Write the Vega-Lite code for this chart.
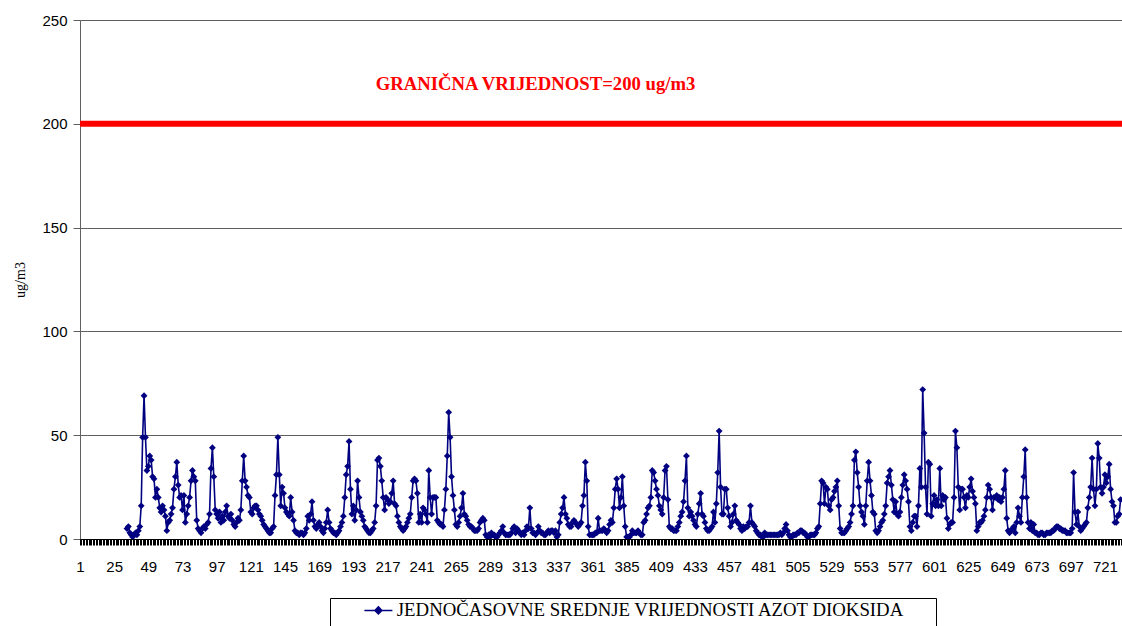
{
"$schema": "https://vega.github.io/schema/vega-lite/v6.json",
"width": 1042,
"height": 519,
"autosize": {"type": "none"},
"padding": {"left": 80, "top": 20, "right": 0, "bottom": 87},
"background": "white",
"config": {"view": {"stroke": null}},
"data": {"values": [
{"h":34,"v":5},{"h":35,"v":6},{"h":36,"v":3},{"h":37,"v":2},{"h":38,"v":1},{"h":39,"v":2},{"h":40,"v":3},{"h":41,"v":2},{"h":42,"v":4},{"h":43,"v":6},
{"h":44,"v":16},{"h":45,"v":49},{"h":46,"v":69},{"h":47,"v":49},{"h":48,"v":33},{"h":49,"v":35},{"h":50,"v":40},{"h":51,"v":38},{"h":52,"v":30},{"h":53,"v":29},
{"h":54,"v":20},{"h":55,"v":24},{"h":56,"v":20},{"h":57,"v":15},{"h":58,"v":13},{"h":59,"v":16},{"h":60,"v":14},{"h":61,"v":11},{"h":62,"v":4},{"h":63,"v":8},
{"h":64,"v":9},{"h":65,"v":12},{"h":66,"v":15},{"h":67,"v":24},{"h":68,"v":30},{"h":69,"v":37},{"h":70,"v":26},{"h":71,"v":20},{"h":72,"v":21},{"h":73,"v":14},
{"h":74,"v":21},{"h":75,"v":8},{"h":76,"v":12},{"h":77,"v":16},{"h":78,"v":20},{"h":79,"v":28},{"h":80,"v":33},{"h":81,"v":30},{"h":82,"v":28},{"h":83,"v":9},
{"h":84,"v":5},{"h":85,"v":4},{"h":86,"v":3},{"h":87,"v":5},{"h":88,"v":6},{"h":89,"v":5},{"h":90,"v":7},{"h":91,"v":8},{"h":92,"v":12},{"h":93,"v":34},
{"h":94,"v":44},{"h":95,"v":30},{"h":96,"v":14},{"h":97,"v":12},{"h":98,"v":10},{"h":99,"v":13},{"h":100,"v":8},{"h":101,"v":11},{"h":102,"v":9},{"h":103,"v":13},
{"h":104,"v":16},{"h":105,"v":11},{"h":106,"v":10},{"h":107,"v":12},{"h":108,"v":9},{"h":109,"v":7},{"h":110,"v":6},{"h":111,"v":8},{"h":112,"v":10},{"h":113,"v":9},
{"h":114,"v":14},{"h":115,"v":28},{"h":116,"v":40},{"h":117,"v":28},{"h":118,"v":25},{"h":119,"v":21},{"h":120,"v":20},{"h":121,"v":13},{"h":122,"v":12},{"h":123,"v":15},
{"h":124,"v":16},{"h":125,"v":16},{"h":126,"v":14},{"h":127,"v":12},{"h":128,"v":11},{"h":129,"v":9},{"h":130,"v":7},{"h":131,"v":6},{"h":132,"v":5},{"h":133,"v":4},
{"h":134,"v":3},{"h":135,"v":3},{"h":136,"v":5},{"h":137,"v":6},{"h":138,"v":21},{"h":139,"v":31},{"h":140,"v":49},{"h":141,"v":31},{"h":142,"v":16},{"h":143,"v":25},
{"h":144,"v":22},{"h":145,"v":15},{"h":146,"v":13},{"h":147,"v":12},{"h":148,"v":11},{"h":149,"v":20},{"h":150,"v":13},{"h":151,"v":9},{"h":152,"v":4},{"h":153,"v":3},
{"h":154,"v":3},{"h":155,"v":2},{"h":156,"v":3},{"h":157,"v":3},{"h":158,"v":2},{"h":159,"v":3},{"h":160,"v":5},{"h":161,"v":11},{"h":162,"v":9},{"h":163,"v":12},
{"h":164,"v":18},{"h":165,"v":9},{"h":166,"v":6},{"h":167,"v":5},{"h":168,"v":7},{"h":169,"v":8},{"h":170,"v":6},{"h":171,"v":4},{"h":172,"v":3},{"h":173,"v":5},
{"h":174,"v":8},{"h":175,"v":14},{"h":176,"v":8},{"h":177,"v":5},{"h":178,"v":4},{"h":179,"v":3},{"h":180,"v":3},{"h":181,"v":2},{"h":182,"v":3},{"h":183,"v":4},
{"h":184,"v":6},{"h":185,"v":8},{"h":186,"v":11},{"h":187,"v":20},{"h":188,"v":31},{"h":189,"v":35},{"h":190,"v":47},{"h":191,"v":24},{"h":192,"v":12},{"h":193,"v":16},
{"h":194,"v":9},{"h":195,"v":14},{"h":196,"v":28},{"h":197,"v":20},{"h":198,"v":13},{"h":199,"v":11},{"h":200,"v":9},{"h":201,"v":6},{"h":202,"v":5},{"h":203,"v":4},
{"h":204,"v":3},{"h":205,"v":3},{"h":206,"v":4},{"h":207,"v":5},{"h":208,"v":8},{"h":209,"v":16},{"h":210,"v":38},{"h":211,"v":39},{"h":212,"v":35},{"h":213,"v":28},
{"h":214,"v":20},{"h":215,"v":14},{"h":216,"v":20},{"h":217,"v":19},{"h":218,"v":17},{"h":219,"v":18},{"h":220,"v":22},{"h":221,"v":28},{"h":222,"v":17},{"h":223,"v":16},
{"h":224,"v":11},{"h":225,"v":8},{"h":226,"v":6},{"h":227,"v":5},{"h":228,"v":4},{"h":229,"v":5},{"h":230,"v":6},{"h":231,"v":8},{"h":232,"v":10},{"h":233,"v":12},
{"h":234,"v":20},{"h":235,"v":28},{"h":236,"v":29},{"h":237,"v":28},{"h":238,"v":22},{"h":239,"v":8},{"h":240,"v":12},{"h":241,"v":8},{"h":242,"v":15},{"h":243,"v":14},
{"h":244,"v":12},{"h":245,"v":8},{"h":246,"v":33},{"h":247,"v":20},{"h":248,"v":12},{"h":249,"v":20},{"h":250,"v":20},{"h":251,"v":20},{"h":252,"v":9},{"h":253,"v":8},
{"h":254,"v":7},{"h":255,"v":7},{"h":256,"v":6},{"h":257,"v":14},{"h":258,"v":24},{"h":259,"v":40},{"h":260,"v":61},{"h":261,"v":49},{"h":262,"v":30},{"h":263,"v":21},
{"h":264,"v":14},{"h":265,"v":7},{"h":266,"v":6},{"h":267,"v":8},{"h":268,"v":11},{"h":269,"v":15},{"h":270,"v":22},{"h":271,"v":12},{"h":272,"v":11},{"h":273,"v":9},
{"h":274,"v":7},{"h":275,"v":6},{"h":276,"v":6},{"h":277,"v":5},{"h":278,"v":4},{"h":279,"v":4},{"h":280,"v":4},{"h":281,"v":5},{"h":282,"v":8},{"h":283,"v":9},
{"h":284,"v":10},{"h":285,"v":9},{"h":286,"v":2},{"h":287,"v":1},{"h":288,"v":2},{"h":289,"v":1},{"h":290,"v":3},{"h":291,"v":2},{"h":292,"v":2},{"h":293,"v":1},
{"h":294,"v":1},{"h":295,"v":2},{"h":296,"v":3},{"h":297,"v":4},{"h":298,"v":6},{"h":299,"v":3},{"h":300,"v":2},{"h":301,"v":2},{"h":302,"v":2},{"h":303,"v":2},
{"h":304,"v":3},{"h":305,"v":5},{"h":306,"v":6},{"h":307,"v":3},{"h":308,"v":5},{"h":309,"v":4},{"h":310,"v":3},{"h":311,"v":2},{"h":312,"v":3},{"h":313,"v":2},
{"h":314,"v":4},{"h":315,"v":6},{"h":316,"v":5},{"h":317,"v":15},{"h":318,"v":5},{"h":319,"v":3},{"h":320,"v":3},{"h":321,"v":2},{"h":322,"v":3},{"h":323,"v":6},
{"h":324,"v":4},{"h":325,"v":3},{"h":326,"v":3},{"h":327,"v":2},{"h":328,"v":2},{"h":329,"v":3},{"h":330,"v":4},{"h":331,"v":3},{"h":332,"v":4},{"h":333,"v":4},
{"h":334,"v":3},{"h":335,"v":4},{"h":336,"v":1},{"h":337,"v":2},{"h":338,"v":8},{"h":339,"v":12},{"h":340,"v":15},{"h":341,"v":20},{"h":342,"v":12},{"h":343,"v":10},
{"h":344,"v":7},{"h":345,"v":6},{"h":346,"v":6},{"h":347,"v":8},{"h":348,"v":9},{"h":349,"v":8},{"h":350,"v":7},{"h":351,"v":6},{"h":352,"v":7},{"h":353,"v":8},
{"h":354,"v":16},{"h":355,"v":21},{"h":356,"v":37},{"h":357,"v":28},{"h":358,"v":6},{"h":359,"v":2},{"h":360,"v":2},{"h":361,"v":2},{"h":362,"v":2},{"h":363,"v":3},
{"h":364,"v":3},{"h":365,"v":10},{"h":366,"v":4},{"h":367,"v":4},{"h":368,"v":4},{"h":369,"v":5},{"h":370,"v":4},{"h":371,"v":3},{"h":372,"v":4},{"h":373,"v":7},
{"h":374,"v":9},{"h":375,"v":8},{"h":376,"v":15},{"h":377,"v":24},{"h":378,"v":29},{"h":379,"v":24},{"h":380,"v":15},{"h":381,"v":20},{"h":382,"v":30},{"h":383,"v":16},
{"h":384,"v":6},{"h":385,"v":1},{"h":386,"v":1},{"h":387,"v":1},{"h":388,"v":2},{"h":389,"v":4},{"h":390,"v":3},{"h":391,"v":3},{"h":392,"v":3},{"h":393,"v":4},
{"h":394,"v":3},{"h":395,"v":2},{"h":396,"v":2},{"h":397,"v":8},{"h":398,"v":9},{"h":399,"v":12},{"h":400,"v":15},{"h":401,"v":16},{"h":402,"v":20},{"h":403,"v":33},
{"h":404,"v":32},{"h":405,"v":28},{"h":406,"v":24},{"h":407,"v":21},{"h":408,"v":16},{"h":409,"v":14},{"h":410,"v":12},{"h":411,"v":20},{"h":412,"v":33},{"h":413,"v":35},
{"h":414,"v":19},{"h":415,"v":6},{"h":416,"v":5},{"h":417,"v":5},{"h":418,"v":4},{"h":419,"v":4},{"h":420,"v":4},{"h":421,"v":6},{"h":422,"v":8},{"h":423,"v":11},
{"h":424,"v":13},{"h":425,"v":18},{"h":426,"v":28},{"h":427,"v":40},{"h":428,"v":15},{"h":429,"v":11},{"h":430,"v":13},{"h":431,"v":11},{"h":432,"v":9},{"h":433,"v":7},
{"h":434,"v":6},{"h":435,"v":12},{"h":436,"v":17},{"h":437,"v":22},{"h":438,"v":12},{"h":439,"v":11},{"h":440,"v":8},{"h":441,"v":5},{"h":442,"v":4},{"h":443,"v":4},
{"h":444,"v":5},{"h":445,"v":6},{"h":446,"v":13},{"h":447,"v":8},{"h":448,"v":17},{"h":449,"v":32},{"h":450,"v":52},{"h":451,"v":25},{"h":452,"v":12},{"h":453,"v":12},
{"h":454,"v":24},{"h":455,"v":24},{"h":456,"v":15},{"h":457,"v":11},{"h":458,"v":6},{"h":459,"v":8},{"h":460,"v":12},{"h":461,"v":16},{"h":462,"v":9},{"h":463,"v":8},
{"h":464,"v":7},{"h":465,"v":5},{"h":466,"v":4},{"h":467,"v":6},{"h":468,"v":5},{"h":469,"v":6},{"h":470,"v":6},{"h":471,"v":8},{"h":472,"v":16},{"h":473,"v":8},
{"h":474,"v":7},{"h":475,"v":6},{"h":476,"v":4},{"h":477,"v":3},{"h":478,"v":2},{"h":479,"v":2},{"h":480,"v":1},{"h":481,"v":1},{"h":482,"v":3},{"h":483,"v":2},
{"h":484,"v":2},{"h":485,"v":2},{"h":486,"v":2},{"h":487,"v":2},{"h":488,"v":2},{"h":489,"v":2},{"h":490,"v":2},{"h":491,"v":2},{"h":492,"v":2},{"h":493,"v":3},
{"h":494,"v":2},{"h":495,"v":3},{"h":496,"v":5},{"h":497,"v":7},{"h":498,"v":4},{"h":499,"v":2},{"h":500,"v":1},{"h":501,"v":1},{"h":502,"v":2},{"h":503,"v":2},
{"h":504,"v":2},{"h":505,"v":3},{"h":506,"v":3},{"h":507,"v":4},{"h":508,"v":4},{"h":509,"v":3},{"h":510,"v":3},{"h":511,"v":2},{"h":512,"v":1},{"h":513,"v":1},
{"h":514,"v":2},{"h":515,"v":2},{"h":516,"v":2},{"h":517,"v":2},{"h":518,"v":3},{"h":519,"v":5},{"h":520,"v":6},{"h":521,"v":17},{"h":522,"v":28},{"h":523,"v":27},
{"h":524,"v":17},{"h":525,"v":25},{"h":526,"v":24},{"h":527,"v":16},{"h":528,"v":14},{"h":529,"v":19},{"h":530,"v":20},{"h":531,"v":23},{"h":532,"v":25},{"h":533,"v":28},
{"h":534,"v":16},{"h":535,"v":5},{"h":536,"v":3},{"h":537,"v":3},{"h":538,"v":3},{"h":539,"v":4},{"h":540,"v":5},{"h":541,"v":6},{"h":542,"v":8},{"h":543,"v":12},
{"h":544,"v":16},{"h":545,"v":38},{"h":546,"v":42},{"h":547,"v":32},{"h":548,"v":25},{"h":549,"v":16},{"h":550,"v":13},{"h":551,"v":11},{"h":552,"v":7},{"h":553,"v":16},
{"h":554,"v":28},{"h":555,"v":37},{"h":556,"v":28},{"h":557,"v":21},{"h":558,"v":13},{"h":559,"v":12},{"h":560,"v":4},{"h":561,"v":3},{"h":562,"v":4},{"h":563,"v":6},
{"h":564,"v":8},{"h":565,"v":9},{"h":566,"v":12},{"h":567,"v":16},{"h":568,"v":27},{"h":569,"v":30},{"h":570,"v":33},{"h":571,"v":26},{"h":572,"v":19},{"h":573,"v":13},
{"h":574,"v":18},{"h":575,"v":12},{"h":576,"v":11},{"h":577,"v":13},{"h":578,"v":20},{"h":579,"v":26},{"h":580,"v":31},{"h":581,"v":28},{"h":582,"v":24},{"h":583,"v":18},
{"h":584,"v":6},{"h":585,"v":4},{"h":586,"v":8},{"h":587,"v":11},{"h":588,"v":11},{"h":589,"v":6},{"h":590,"v":16},{"h":591,"v":34},{"h":592,"v":25},{"h":593,"v":72},
{"h":594,"v":51},{"h":595,"v":25},{"h":596,"v":12},{"h":597,"v":37},{"h":598,"v":36},{"h":599,"v":11},{"h":600,"v":17},{"h":601,"v":21},{"h":602,"v":16},{"h":603,"v":19},
{"h":604,"v":16},{"h":605,"v":34},{"h":606,"v":16},{"h":607,"v":21},{"h":608,"v":19},{"h":609,"v":20},{"h":610,"v":10},{"h":611,"v":5},{"h":612,"v":7},{"h":613,"v":8},
{"h":614,"v":8},{"h":615,"v":20},{"h":616,"v":52},{"h":617,"v":44},{"h":618,"v":25},{"h":619,"v":14},{"h":620,"v":24},{"h":621,"v":24},{"h":622,"v":20},{"h":623,"v":15},
{"h":624,"v":21},{"h":625,"v":20},{"h":626,"v":25},{"h":627,"v":29},{"h":628,"v":23},{"h":629,"v":20},{"h":630,"v":17},{"h":631,"v":4},{"h":632,"v":6},{"h":633,"v":8},
{"h":634,"v":8},{"h":635,"v":9},{"h":636,"v":11},{"h":637,"v":14},{"h":638,"v":20},{"h":639,"v":26},{"h":640,"v":24},{"h":641,"v":20},{"h":642,"v":14},{"h":643,"v":20},
{"h":644,"v":20},{"h":645,"v":21},{"h":646,"v":19},{"h":647,"v":20},{"h":648,"v":18},{"h":649,"v":20},{"h":650,"v":24},{"h":651,"v":33},{"h":652,"v":10},{"h":653,"v":4},
{"h":654,"v":3},{"h":655,"v":4},{"h":656,"v":5},{"h":657,"v":6},{"h":658,"v":3},{"h":659,"v":8},{"h":660,"v":15},{"h":661,"v":11},{"h":662,"v":8},{"h":663,"v":20},
{"h":664,"v":30},{"h":665,"v":43},{"h":666,"v":20},{"h":667,"v":8},{"h":668,"v":5},{"h":669,"v":8},{"h":670,"v":4},{"h":671,"v":7},{"h":672,"v":3},{"h":673,"v":3},
{"h":674,"v":2},{"h":675,"v":2},{"h":676,"v":3},{"h":677,"v":3},{"h":678,"v":2},{"h":679,"v":2},{"h":680,"v":3},{"h":681,"v":3},{"h":682,"v":3},{"h":683,"v":3},
{"h":684,"v":4},{"h":685,"v":4},{"h":686,"v":5},{"h":687,"v":6},{"h":688,"v":6},{"h":689,"v":5},{"h":690,"v":5},{"h":691,"v":4},{"h":692,"v":4},{"h":693,"v":4},
{"h":694,"v":3},{"h":695,"v":3},{"h":696,"v":3},{"h":697,"v":3},{"h":698,"v":5},{"h":699,"v":32},{"h":700,"v":13},{"h":701,"v":7},{"h":702,"v":13},{"h":703,"v":6},
{"h":704,"v":4},{"h":705,"v":5},{"h":706,"v":6},{"h":707,"v":7},{"h":708,"v":8},{"h":709,"v":15},{"h":710,"v":20},{"h":711,"v":25},{"h":712,"v":39},{"h":713,"v":24},
{"h":714,"v":16},{"h":715,"v":24},{"h":716,"v":46},{"h":717,"v":39},{"h":718,"v":25},{"h":719,"v":22},{"h":720,"v":25},{"h":721,"v":31},{"h":722,"v":27},{"h":723,"v":30},
{"h":724,"v":36},{"h":725,"v":24},{"h":726,"v":18},{"h":727,"v":16},{"h":728,"v":8},{"h":729,"v":8},{"h":730,"v":11},{"h":731,"v":12},{"h":732,"v":19}
]},
"layer": [
{
"data": {"values": [{"limit": 200}]},
"mark": {"type": "rule", "stroke": "#ff0000", "strokeWidth": 6},
"encoding": {"y": {"field": "limit", "type": "quantitative"}}
},
{
"mark": {"type": "line", "strokeWidth": 1.6},
"encoding": {
"x": {"field": "h", "type": "quantitative",
"scale": {"domain": [1, 733], "nice": false, "zero": false},
"axis": {"title": null, "tickCount": 732, "ticks": true, "tickWidth": 1, "tickOpacity": 1, "tickRound": true, "domain": true, "domainWidth": 1, "labelExpr": "(datum.value - 1) % 24 === 0 ? datum.label : ''", "labelOverlap": false, "labelFlush": false, "labelBound": false, "grid": false, "domainColor": "#000000", "tickColor": "#000000", "tickSize": 6, "labelPadding": 14, "labelFont": "Liberation Sans", "labelFontSize": 15, "labelColor": "#000000", "zindex": 1}},
"y": {"field": "v", "type": "quantitative",
"scale": {"domain": [0, 250], "nice": false},
"axis": {"title": "ug/m3", "values": [0, 50, 100, 150, 200, 250], "grid": true, "gridColor": "#606060", "gridWidth": 1, "domainColor": "#606060", "tickColor": "#606060", "tickSize": 7, "labelPadding": 6, "labelFont": "Liberation Sans", "labelFontSize": 15, "labelColor": "#000000", "titleFont": "Liberation Serif", "titleFontSize": 14, "titleFontWeight": "normal", "titleColor": "#000000", "titlePadding": 14}},
"color": {"datum": "JEDNOČASOVNE SREDNJE VRIJEDNOSTI AZOT DIOKSIDA", "scale": {"range": ["#000080"]},
"legend": {"title": "\u00a0", "titleOrient": "bottom", "titleFontSize": 12, "titlePadding": 4, "orient": "none", "legendX": 250, "legendY": 578, "strokeColor": "#000000", "padding": 3, "symbolType": "M-2,0L2,0M0,-0.5L0.5,0L0,0.5L-0.5,0Z", "symbolSize": 196, "symbolStrokeWidth": 1.5, "symbolFillColor": "#000080", "symbolStrokeColor": "#000080", "symbolOffset": 36, "labelOffset": 9, "labelFont": "Liberation Serif", "labelFontSize": 18.8, "labelColor": "#000000", "labelLimit": 0, "labelExpr": "datum.label + '\u2800\u2800'"}}
}
},
{
"mark": {"type": "point", "shape": "diamond", "filled": true, "size": 46, "color": "#000080", "opacity": 1},
"encoding": {
"x": {"field": "h", "type": "quantitative"},
"y": {"field": "v", "type": "quantitative"}
}
},
{
"data": {"values": [{}]},
"mark": {"type": "text", "font": "Liberation Serif", "fontSize": 18.7, "fontWeight": "bold", "color": "#ff0000", "align": "center", "baseline": "middle"},
"encoding": {
"x": {"datum": 321, "type": "quantitative"},
"y": {"datum": 219, "type": "quantitative"},
"text": {"value": "GRANIČNA VRIJEDNOST=200 ug/m3"}
}
}
]
}
